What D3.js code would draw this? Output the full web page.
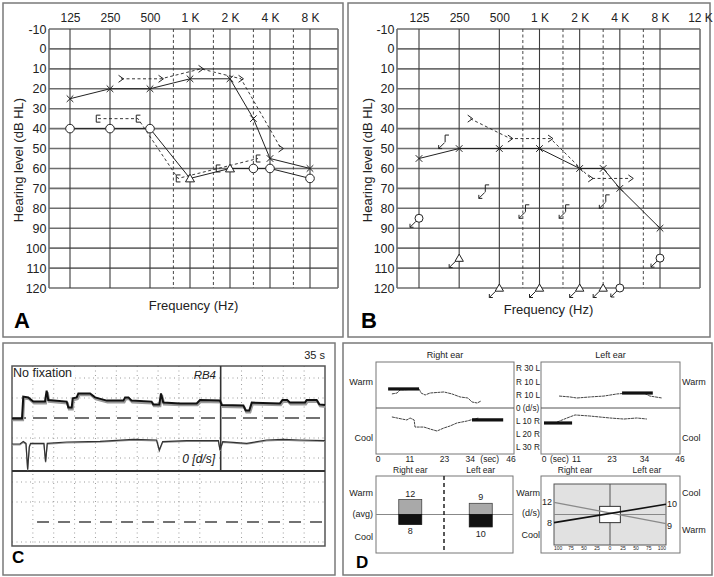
<!DOCTYPE html>
<html><head><meta charset="utf-8">
<script src="https://cdn.jsdelivr.net/npm/d3@7"></script>
<style>body{margin:0;background:#fff}svg{display:block}</style>
</head><body><svg id="c" width="714" height="577"></svg>
<script>
// ---------------- DATA ----------------
const freqs = [125, 250, 500, 1000, 2000, 4000, 8000];
const freqLabelsA = ["125", "250", "500", "1 K", "2 K", "4 K", "8 K"];
const freqLabelsB = ["125", "250", "500", "1 K", "2 K", "4 K", "8 K", "12 K"];
const halfFreqs = [750, 1500, 3000, 6000];
const hlTicks = [-10, 0, 10, 20, 30, 40, 50, 60, 70, 80, 90, 100, 110, 120];

// Panel A
const aAirX = [[125,25],[250,20],[500,20],[1000,15],[2000,15],[3000,35],[4000,55],[8000,60]];
const aAirO = [[125,40,"o"],[250,40,"o"],[500,40,"o"],[1000,65,"tri"],[2000,60,"tri"],[3000,60,"o"],[4000,60,"o"],[8000,65,"o"]];
const aBoneLeft = [[250,15],[500,15],[1000,10],[2000,15],[4000,50]];
const aBoneRight = [[250,35],[500,35],[1000,65],[2000,60],[4000,55]];

// Panel B
const bAirX = [[125,55],[250,50],[500,50],[1000,50],[2000,60],[3000,60],[4000,70],[8000,90]];
const bBoneLeft = [[250,35],[500,45],[1000,45],[2000,65],[4000,65]];
const bBoneRightNR = [[250,45],[500,70],[1000,80],[2000,80],[4000,75]];
const bAirONR = [[125,85],[4000,120],[8000,105]];
const bAirTriNR = [[250,105],[500,120],[1000,120],[2000,120],[3000,120]];

// Panel C (x in grid divisions, y in trace units)
const cTraceTop = [[0,19.8],[0.48,19.8],[0.54,30.7],[0.78,30.3],[1.02,28.2],[1.58,28.2],[1.66,33.7],[1.74,29],[2.62,28.2],[2.7,25.2],[2.86,25.2],[2.91,29.8],[3.1,30.3],[3.18,32.3],[3.74,32.3],[3.98,30.3],[4.54,28.7],[5.34,28.7],[5.42,30.3],[5.58,30.3],[5.73,28.7],[6.69,28.2],[6.77,26.8],[7.06,26.8],[7.14,32.3],[7.25,27.7],[8.05,27.3],[8.85,27.3],[9.01,29],[9.97,28.7],[10.05,26.5],[11.09,26.2],[11.2,23.7],[11.37,23.7],[11.49,27.7],[12.84,27.3],[12.96,29],[13.19,29],[13.32,27.7],[14.04,27.7],[14.12,29],[14.6,29],[14.73,26.8],[15,26.5]];
const cTraceLow = [[0,7],[0.38,7],[0.54,8.2],[0.67,7.3],[0.75,-5.7],[0.83,5.7],[0.89,7.3],[1.53,7.3],[1.61,-1.8],[1.69,7.3],[2.62,8],[4.22,8.3],[5.81,9.3],[6.93,9],[7.06,4],[7.22,8.2],[8.37,8.7],[9.89,8.7],[9.97,4],[10.1,8.2],[10.61,7.8],[11.25,7.3],[12.2,9],[13,9.3],[13.8,9],[15,8.7]];
const cDivisions = [1,2,3,4,5,6,7,8,9,11,12,13,14];
const cGridDotted = [0, 10, 30, 40, -12, -22, -42];
const cDashUpper = 20, cDashLower = -32;

// Panel D
const dTimeTicks = [0, 11, 23, 34, 46];
const dVelTicks = [30, 20, 10, 0, -10, -20, -30];
const dVelLabels = ["R 30 L", "R 10 L", "R 10 L", "0 (d/s)", "L 10 R", "L 20 R", "L 30 R"];
const dRightWarm = [[4.8,10.7],[6.6,11.4],[7.6,13.7],[14.2,14.5],[14.9,11.4],[16.3,9.9],[18,11.4],[22.8,12.2],[25.6,10.7],[28.4,8.4],[31.1,7.6],[32.5,4.6],[34.3,3.8],[35.6,5.3]];
const dRightWarmAvg = [[3.5,14.5],[14.2,14.5]];
const dRightCool = [[4.8,-6.8],[8.3,-8.4],[10,-9.1],[11.1,-7.6],[12.5,-9.1],[12.8,-14.5],[15.9,-14.5],[18,-16],[20.4,-17.5],[22.8,-15.2],[24.9,-13.7],[27.3,-11.4],[30.8,-9.9],[33.2,-8.4],[34.9,-7.6]];
const dRightCoolAvg = [[32.5,-9.1],[43.3,-9.1]];
const dLeftWarm = [[5.1,9.1],[8.8,8.4],[11.1,7.6],[15.5,8.4],[20.3,9.1],[24.7,10.7],[29.1,11.4],[33.8,11.4],[35.8,9.1],[39.9,7.6]];
const dLeftWarmAvg = [[26.4,11.4],[36.8,11.4]];
const dLeftCool = [[4.4,-10.7],[7.8,-7.6],[10.5,-5.3],[15.5,-6.1],[22.3,-7.6],[27,-8.4],[31.4,-7.6],[34.8,-8.4]];
const dLeftCoolAvg = [[0,-11.4],[9.5,-11.4]];
const earNames = ["Right ear", "Left ear"];
const avgWarm = [12, 9];
const avgCool = [8, 10];
const dirTicks = [-100, -75, -50, -25, 0, 25, 50, 75, 100];
const dirRightLine = [[-108,-8],[108,10]];   // black
const dirLeftLine = [[-108,12],[108,-9]];    // gray
const dirBox = [[-20,-8],[20,8]];

// ---------------- DRAWING ----------------
const FONT = '"Liberation Sans", Arial, Helvetica, sans-serif';
const INK = "#222";
const svg = d3.select("#c");
svg.append("rect").attr("width",714).attr("height",577).attr("fill","#fff");

function txt(g, x, y, s, size, anchor, extra) {
  const t = g.append("text").attr("x",x).attr("y",y).text(s)
    .attr("font-family",FONT).attr("font-size",size).attr("fill",INK)
    .attr("text-anchor",anchor||"start");
  if (extra) extra(t);
  return t;
}

// panel frames
[[3,3,340,334],[348,3,362,334],[3,343,332,232],[343,343,369,232]].forEach(f=>{
  svg.append("rect").attr("x",f[0]).attr("y",f[1]).attr("width",f[2]).attr("height",f[3])
    .attr("fill","none").attr("stroke","#7a7a7a").attr("stroke-width",1.5);
});

const sym = {
  x: s => `M${-s},${-s}L${s},${s}M${-s},${s}L${s},${-s}`,
  tri: s => `M0,${-s}L${s*1.05},${s*0.8}L${-s*1.05},${s*0.8}Z`,
  chev: s => `M${-s*0.7},${-s}L${s*0.7},0L${-s*0.7},${s}`,
  brk: s => `M${s*0.7},${-s}H${-s*0.5}V${s}H${s*0.7}`,
  gam: s => `M${s*0.8},${-s}H${-s*0.3}V${s}`
};

function audiogram(L, labels) {
  const g = svg.append("g");
  const x = d3.scaleLog().base(2).domain([125, 8000]).range([L.f0, L.f1]);
  const y = d3.scaleLinear().domain([-10, 120]).range([29, 288]);
  g.append("g").selectAll("line").data(hlTicks).join("line")
    .attr("x1",L.x0).attr("x2",L.x1).attr("y1",d=>y(d)).attr("y2",d=>y(d))
    .attr("stroke","#6e6e6e").attr("stroke-width",1.6);
  g.append("g").selectAll("line").data(freqs).join("line")
    .attr("x1",d=>x(d)).attr("x2",d=>x(d)).attr("y1",y(-10)).attr("y2",y(120))
    .attr("stroke","#3c3c3c").attr("stroke-width",1.1);
  g.append("g").selectAll("line").data(halfFreqs).join("line")
    .attr("x1",d=>x(d)).attr("x2",d=>x(d)).attr("y1",y(-10)).attr("y2",y(120))
    .attr("stroke","#333").attr("stroke-width",0.9).attr("stroke-dasharray","3,2.5");
  [L.x0, L.x1].forEach(v=>g.append("line").attr("x1",v).attr("x2",v).attr("y1",y(-10)).attr("y2",y(120))
    .attr("stroke","#6e6e6e").attr("stroke-width",1.6));
  const ay = g.append("g").attr("transform",`translate(${L.x0},0)`)
    .call(d3.axisLeft(y).tickValues(hlTicks).tickFormat(d=>String(d)).tickSize(0).tickPadding(2.5));
  ay.select(".domain").remove();
  ay.selectAll("text").attr("font-size",12.5).attr("font-family",FONT).attr("fill",INK);
  const tv = freqs.slice();
  if (labels.length > freqs.length) tv.push(x.invert(L.x1));
  const ax = g.append("g").attr("transform",`translate(0,${y(-10)})`)
    .call(d3.axisTop(x).tickValues(tv).tickFormat((d,i)=>labels[i]).tickSize(0).tickPadding(7));
  ax.select(".domain").remove();
  ax.selectAll("text").attr("font-size",12).attr("font-family",FONT).attr("fill",INK);
  txt(g, L.ytx, 160, "Hearing level (dB HL)", 13, "middle", t=>t.attr("transform",`rotate(-90,${L.ytx},160)`).attr("dy","0.35em"));
  txt(g, (L.x0+L.x1)/2, L.fy, "Frequency (Hz)", 13, "middle");
  txt(g, L.lx, 328, L.letter, 22, "start", t=>t.attr("font-weight","bold").attr("fill","#000"));
  return {g, x, y};
}

function drawLine(g, data, x, y, dx, dash, w) {
  g.append("path").datum(data)
    .attr("d", d3.line().x(d=>x(d[0])+dx).y(d=>y(d[1])))
    .attr("fill","none").attr("stroke",INK).attr("stroke-width",w||1)
    .attr("stroke-dasharray",dash||null);
}
function drawMarks(g, data, x, y, dx, type, s, arrowFrom) {
  data.forEach(d=>{
    const cx = x(d[0])+dx, cy = y(d[1]);
    const t = d[2] || type;
    const mg = g.append("g").attr("transform",`translate(${cx},${cy})`);
    if (t === "o") mg.append("circle").attr("r",s).attr("fill","#fff").attr("stroke",INK).attr("stroke-width",1);
    else mg.append("path").attr("d",sym[t](s))
      .attr("fill", t==="tri" ? "#fff" : "none").attr("stroke",INK).attr("stroke-width",1);
    if (arrowFrom) {
      const [ax0, ay0] = arrowFrom;
      const ex = ax0-6, ey = ay0+6;
      mg.append("path").attr("d",`M${ax0},${ay0}L${ex},${ey}M${ex},${ey}V${ey-3.5}M${ex},${ey}H${ex+3.5}`)
        .attr("fill","none").attr("stroke",INK).attr("stroke-width",1);
    }
  });
}

// ----- Panel A -----
const A = audiogram({x0:49, x1:338, f0:70, f1:310, ytx:18, fy:310, lx:14, letter:"A"}, freqLabelsA);
drawLine(A.g, aBoneLeft, A.x, A.y, 11, "3,2.5", 0.9);
drawLine(A.g, aBoneRight, A.x, A.y, -12, "3,2.5", 0.9);
drawLine(A.g, aAirX, A.x, A.y, 0, null, 1);
drawLine(A.g, aAirO, A.x, A.y, 0, null, 1);
drawMarks(A.g, aBoneLeft, A.x, A.y, 11, "chev", 3.5);
drawMarks(A.g, aBoneRight, A.x, A.y, -12, "brk", 3.5);
drawMarks(A.g, aAirX, A.x, A.y, 0, "x", 3.3);
drawMarks(A.g, aAirO, A.x, A.y, 0, "o", 4.3);

// ----- Panel B -----
const B = audiogram({x0:397, x1:700, f0:419, f1:660, ytx:367, fy:314, lx:361, letter:"B"}, freqLabelsB);
drawLine(B.g, bBoneLeft, B.x, B.y, 11, "3,2.5", 0.9);
drawLine(B.g, bAirX, B.x, B.y, 0, null, 1);
drawMarks(B.g, bBoneLeft, B.x, B.y, 11, "chev", 3.5);
drawMarks(B.g, bAirX, B.x, B.y, 0, "x", 3.3);
drawMarks(B.g, bBoneRightNR, B.x, B.y, -13, "gam", 3.5, [-1.5, 4]);
drawMarks(B.g, bAirONR, B.x, B.y, 0, "o", 4, [-3, 3]);
drawMarks(B.g, bAirTriNR, B.x, B.y, 0, "tri", 4, [-4, 3.5]);

// ----- Panel C -----
(function(){
  const g = svg.append("g");
  const xC = d3.scaleLinear().domain([0, 15]).range([12, 325]);
  const yC = d3.scaleLinear().domain([-44, 46]).range([546, 366]);
  const sep = -6.5;
  g.append("g").selectAll("line").data(cDivisions).join("line")
    .attr("x1",d=>xC(d)).attr("x2",d=>xC(d)).attr("y1",yC(46)).attr("y2",yC(-44))
    .attr("stroke","#9a9a9a").attr("stroke-width",1).attr("stroke-dasharray","1,3.5");
  g.append("g").selectAll("line").data(cGridDotted).join("line")
    .attr("x1",xC(0)).attr("x2",xC(15)).attr("y1",d=>yC(d)).attr("y2",d=>yC(d))
    .attr("stroke","#9a9a9a").attr("stroke-width",1).attr("stroke-dasharray","1,3.5");
  g.append("line").attr("x1",xC(0)).attr("x2",xC(15)).attr("y1",yC(cDashUpper)).attr("y2",yC(cDashUpper))
    .attr("stroke","#444").attr("stroke-width",1.3).attr("stroke-dasharray","14,7");
  g.append("line").attr("x1",xC(1.2)).attr("x2",xC(14.9)).attr("y1",yC(cDashLower)).attr("y2",yC(cDashLower))
    .attr("stroke","#444").attr("stroke-width",1.3).attr("stroke-dasharray","12,9");
  g.append("rect").attr("x",xC(0)).attr("y",yC(46)).attr("width",xC(15)-xC(0)).attr("height",yC(-44)-yC(46))
    .attr("fill","none").attr("stroke","#555").attr("stroke-width",1.5);
  g.append("line").attr("x1",xC(0)).attr("x2",xC(15)).attr("y1",yC(sep)).attr("y2",yC(sep))
    .attr("stroke","#333").attr("stroke-width",2);
  g.append("line").attr("x1",xC(10)).attr("x2",xC(10)).attr("y1",yC(46)).attr("y2",yC(sep))
    .attr("stroke","#333").attr("stroke-width",1.6);
  const ln = d3.line().x(d=>xC(d[0])).y(d=>yC(d[1]));
  g.append("path").datum(cTraceTop).attr("d",ln).attr("transform","translate(0.8,1.6)")
    .attr("fill","none").attr("stroke","#9a9a9a").attr("stroke-width",2.6);
  g.append("path").datum(cTraceTop).attr("d",ln)
    .attr("fill","none").attr("stroke","#111").attr("stroke-width",2);
  g.append("path").datum(cTraceLow).attr("d",ln).attr("transform","translate(0,0.8)")
    .attr("fill","none").attr("stroke","#999").attr("stroke-width",1.2);
  g.append("path").datum(cTraceLow).attr("d",ln)
    .attr("fill","none").attr("stroke","#333").attr("stroke-width",1.2);
  txt(g, 325, 359, "35 s", 11, "end");
  g.append("rect").attr("x",13).attr("y",367).attr("width",62).attr("height",13).attr("fill","#fff");
  txt(g, 13, 377, "No fixation", 12.5, "start");
  txt(g, 216, 379, "RB4", 11.5, "end", t=>t.attr("font-style","italic"));
  txt(g, 215, 463, "0 [d/s]", 12, "end", t=>t.attr("font-style","italic"));
  txt(g, 12, 563, "C", 17, "start", t=>t.attr("font-weight","bold").attr("fill","#000"));
})();

// ----- Panel D -----
(function(){
  const g = svg.append("g");
  const yD = d3.scaleLinear().domain([-35, 35]).range([454, 362]);
  const panels = [
    {x: d3.scaleLinear().domain([0,46]).range([378,511]), bx0:376, bx1:514, name:earNames[0],
     warm:dRightWarm, warmAvg:dRightWarmAvg, cool:dRightCool, coolAvg:dRightCoolAvg},
    {x: d3.scaleLinear().domain([0,46]).range([544,680]), bx0:541, bx1:680, name:earNames[1],
     warm:dLeftWarm, warmAvg:dLeftWarmAvg, cool:dLeftCool, coolAvg:dLeftCoolAvg}
  ];
  const ln = (x) => d3.line().x(d=>x(d[0])).y(d=>yD(d[1]));
  panels.forEach((p,i)=>{
    g.append("rect").attr("x",p.bx0).attr("y",yD(35)).attr("width",p.bx1-p.bx0).attr("height",yD(-35)-yD(35))
      .attr("fill","none").attr("stroke","#777").attr("stroke-width",1);
    g.append("line").attr("x1",p.bx0).attr("x2",p.bx1).attr("y1",yD(0)).attr("y2",yD(0))
      .attr("stroke","#555").attr("stroke-width",1);
    [p.warm, p.cool].forEach(s=>g.append("path").datum(s).attr("d",ln(p.x))
      .attr("fill","none").attr("stroke","#444").attr("stroke-width",1).attr("stroke-dasharray","3,0.6"));
    [p.warmAvg, p.coolAvg].forEach(s=>g.append("path").datum(s).attr("d",ln(p.x))
      .attr("fill","none").attr("stroke","#111").attr("stroke-width",3.2));
    txt(g, (p.bx0+p.bx1)/2, 358, p.name, 9, "middle");
    dTimeTicks.forEach(t=>{
      const dx = (i===0 && t===34) ? -6 : 0;
      txt(g, p.x(t)+dx, 462, String(t), 8.5, "middle");
    });
  });
  txt(g, panels[0].x(34)+4, 462, "(sec)", 8.5, "start");
  txt(g, panels[1].x(0)+6, 462, "(sec)", 8.5, "start");
  dVelTicks.forEach((v,i)=>txt(g, 516, yD(v), dVelLabels[i], 8.2, "start", t=>t.attr("dy","0.35em")));
  txt(g, 373, 385, "Warm", 9, "end");
  txt(g, 373, 441, "Cool", 9, "end");
  txt(g, 682, 385, "Warm", 9, "start");
  txt(g, 682, 441, "Cool", 9, "start");

  // bottom-left: average bars
  const yB = d3.scaleLinear().domain([-31, 31]).range([553, 476]);
  const xB = d3.scalePoint().domain(earNames).range([376, 513]).padding(0.5);
  const bw = 23;
  g.append("rect").attr("x",376).attr("y",yB(31)).attr("width",137).attr("height",yB(-31)-yB(31))
    .attr("fill","none").attr("stroke","#777").attr("stroke-width",1);
  g.append("line").attr("x1",376).attr("x2",513).attr("y1",yB(0)).attr("y2",yB(0))
    .attr("stroke","#888").attr("stroke-width",1.2);
  g.append("line").attr("x1",444).attr("x2",444).attr("y1",yB(31)).attr("y2",yB(-31))
    .attr("stroke","#222").attr("stroke-width",1.5).attr("stroke-dasharray","4,3");
  earNames.forEach((e,i)=>{
    const cx = xB(e) + (i===1 ? 2 : 0);
    g.append("rect").attr("x",cx-bw/2).attr("y",yB(avgWarm[i])).attr("width",bw).attr("height",yB(0)-yB(avgWarm[i]))
      .attr("fill","#a9a9a9").attr("stroke","#444").attr("stroke-width",0.8);
    g.append("rect").attr("x",cx-bw/2).attr("y",yB(0)).attr("width",bw).attr("height",yB(-avgCool[i])-yB(0))
      .attr("fill","#111").attr("stroke","#111").attr("stroke-width",0.8);
    txt(g, cx, yB(avgWarm[i])-3, String(avgWarm[i]), 9, "middle");
    txt(g, cx, yB(-avgCool[i])+10, String(avgCool[i]), 9, "middle");
    txt(g, cx, 473, e, 8.5, "middle");
  });
  txt(g, 373, 496, "Warm", 9, "end");
  txt(g, 373, 517, "(avg)", 9, "end");
  txt(g, 373, 540, "Cool", 9, "end");
  txt(g, 540, 496, "Warm", 9, "end");
  txt(g, 540, 516, "(d/s)", 9, "end");
  txt(g, 540, 538, "Cool", 9, "end");

  // bottom-right: directional preponderance
  const xI = d3.scaleLinear().domain([-108, 108]).range([554, 666]);
  const yI = d3.scaleLinear().domain([-30, 30]).range([545, 484]);
  g.append("rect").attr("x",541).attr("y",476).attr("width",139).attr("height",77)
    .attr("fill","none").attr("stroke","#777").attr("stroke-width",1);
  g.append("rect").attr("x",xI(-108)).attr("y",yI(30)).attr("width",xI(108)-xI(-108)).attr("height",yI(-30)-yI(30))
    .attr("fill","#e1e1e1").attr("stroke","#555").attr("stroke-width",1);
  g.append("line").attr("x1",xI(-108)).attr("x2",xI(108)).attr("y1",yI(0)).attr("y2",yI(0))
    .attr("stroke","#888").attr("stroke-width",1);
  g.append("line").attr("x1",xI(0)).attr("x2",xI(0)).attr("y1",yI(30)).attr("y2",yI(-30))
    .attr("stroke","#555").attr("stroke-width",1);
  g.append("rect").attr("x",xI(dirBox[0][0])).attr("y",yI(dirBox[1][1]))
    .attr("width",xI(dirBox[1][0])-xI(dirBox[0][0])).attr("height",yI(dirBox[0][1])-yI(dirBox[1][1]))
    .attr("fill","#fff").attr("stroke","#333").attr("stroke-width",1);
  const li = d3.line().x(d=>xI(d[0])).y(d=>yI(d[1]));
  g.append("path").datum(dirLeftLine).attr("d",li).attr("stroke","#8a8a8a").attr("stroke-width",1.3).attr("fill","none");
  g.append("path").datum(dirRightLine).attr("d",li).attr("stroke","#111").attr("stroke-width",1.6).attr("fill","none");
  txt(g, 552, yI(dirLeftLine[0][1]), String(avgWarm[0]), 9, "end", t=>t.attr("dy","0.35em"));
  txt(g, 552, yI(dirRightLine[0][1]), String(avgCool[0]), 9, "end", t=>t.attr("dy","0.35em"));
  txt(g, 667, yI(dirRightLine[1][1]), String(avgCool[1]), 9, "start", t=>t.attr("dy","0.35em"));
  txt(g, 667, yI(dirLeftLine[1][1])+2, String(avgWarm[1]), 9, "start", t=>t.attr("dy","0.35em"));
  dirTicks.forEach(v=>txt(g, xI(v), 550, String(Math.abs(v)), 5, "middle"));
  txt(g, 575, 473, earNames[0], 8.5, "middle");
  txt(g, 647, 473, earNames[1], 8.5, "middle");
  txt(g, 682, 496, "Cool", 9, "start");
  txt(g, 682, 533, "Warm", 9, "start");
  txt(g, 356, 568, "D", 17, "start", t=>t.attr("font-weight","bold").attr("fill","#000"));
})();
</script></body></html>
